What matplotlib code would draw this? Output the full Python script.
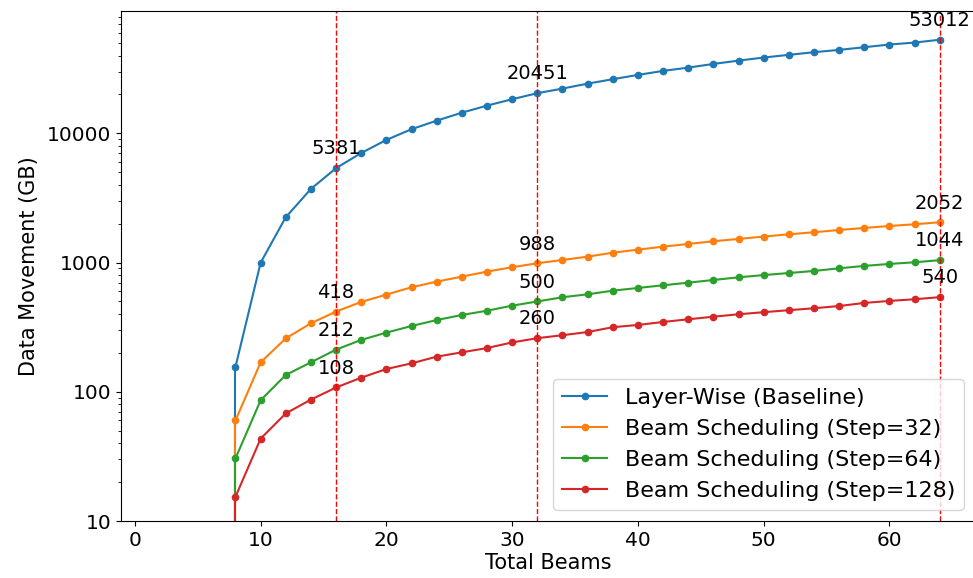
import matplotlib
matplotlib.use("Agg")
import matplotlib.pyplot as plt
from matplotlib.ticker import FuncFormatter

# Total beams on the x axis (step of 2)
beams = [8, 10, 12, 14, 16, 18, 20, 22, 24, 26, 28, 30, 32, 34, 36,
         38, 40, 42, 44, 46, 48, 50, 52, 54, 56, 58, 60, 62, 64]

# Data movement (GB)
layer_wise = [156, 998, 2244, 3715, 5381, 7047, 8894, 10770, 12540, 14450,
              16390, 18370, 20451, 22200, 24250, 26240, 28330, 30420, 32260,
              34450, 36550, 38600, 40500, 42460, 44240, 46400, 48670, 50400, 53012]
step32 = [60, 169, 259, 339, 418, 496, 565, 644, 712, 778, 851, 920, 988,
          1047, 1111, 1193, 1259, 1328, 1393, 1462, 1523, 1590, 1655, 1716,
          1787, 1852, 1920, 1978, 2052]
step64 = [30.5, 86, 135, 169, 212, 252, 287, 323, 359, 393, 424, 464, 500,
          539, 568, 606, 636, 667, 699, 733, 769, 800, 830, 861, 903, 942,
          976, 1005, 1044]
step128 = [15.4, 43.4, 68, 87, 108, 128.6, 150, 166, 187, 202, 218, 241, 260,
           274, 290, 316, 329, 347, 364, 381, 398, 413, 428, 443, 461, 487,
           505, 520, 540]

series = [
    ("Layer-Wise (Baseline)", layer_wise, "tab:blue"),
    ("Beam Scheduling (Step=32)", step32, "tab:orange"),
    ("Beam Scheduling (Step=64)", step64, "tab:green"),
    ("Beam Scheduling (Step=128)", step128, "tab:red"),
]
marked_beams = [16, 32, 64]

fig = plt.figure(figsize=(9.73, 5.78), dpi=100)
ax = fig.add_axes([0.1244, 0.0986, 1.002 - 0.1244, 0.8824])
ax.set_yscale("log")
ax.set_ylim(10, 88500)
ax.set_xlim(-1.1, 66.8)

for label, vals, color in series:
    ax.plot(beams, vals, marker="o", markersize=4.5, linewidth=1.5,
            color=color, label=label)
    # line drops to the bottom at the first beam count
    ax.vlines(beams[0], 1, vals[0], color=color, linewidth=1.5)

for b in marked_beams:
    ax.axvline(b, color="red", linestyle="--", linewidth=1)
    i = beams.index(b)
    for _, vals, _ in series:
        ax.annotate(str(vals[i]), (b, vals[i]), xytext=(0, 7),
                    textcoords="offset points", ha="center", va="bottom",
                    fontsize=14)

ax.yaxis.set_major_formatter(FuncFormatter(lambda v, p: f"{v:.0f}"))
ax.tick_params(labelsize=14.5)
ax.set_xlabel("Total Beams", fontsize=15, labelpad=2)
ax.set_ylabel("Data Movement (GB)", fontsize=15, labelpad=6)
ax.legend(loc="lower right", fontsize=16)

plt.savefig("out.png", dpi=100)
